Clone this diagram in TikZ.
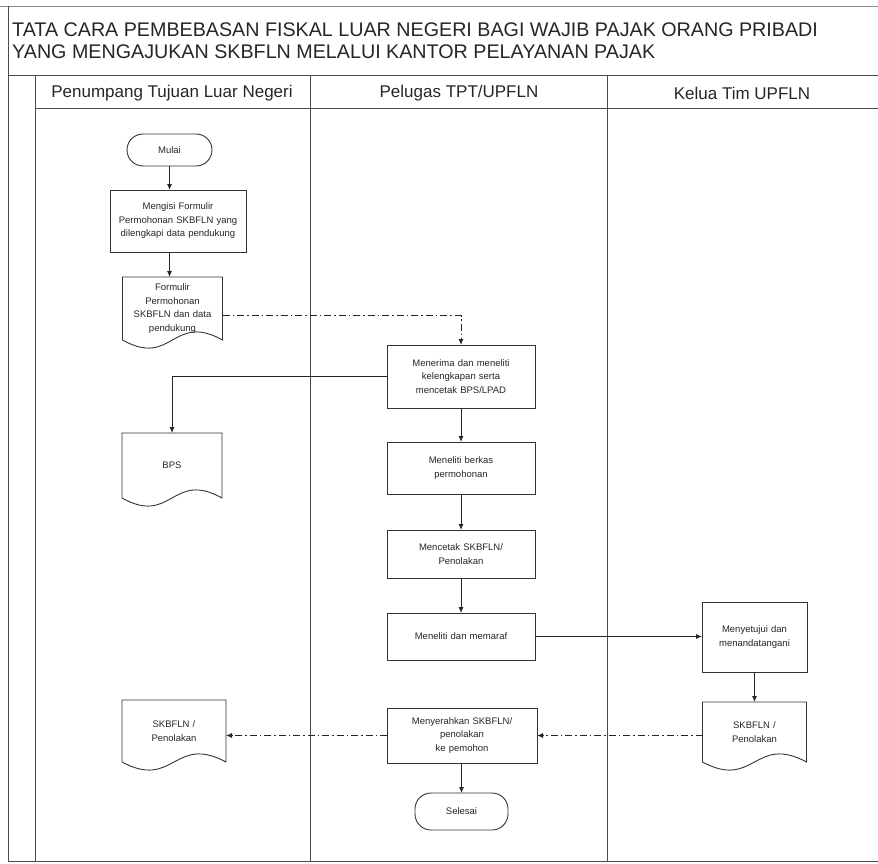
\documentclass[tikz,border=0pt]{standalone}
\usepackage{fontspec}
\setmainfont{Liberation Sans}
\usetikzlibrary{arrows.meta,calc}

\newcommand\docoutline[1]{%
  \draw[shapeline] (#1.north west) -- (#1.south west)
    .. controls ($(#1.south)+(0,28)$) and ($(#1.south)+(0,-28)$) .. (#1.south east)
    -- (#1.north east) -- cycle;}

\begin{document}
\begin{tikzpicture}[x=1pt,y=-1pt,
  frameline/.style={draw=black!70, line width=1pt},
  shapeline/.style={draw=black!80, line width=0.9pt},
  txt/.style={text=black!85, font=\fontsize{9.5}{13.5}\selectfont, align=center},
  proc/.style={txt, shapeline, rectangle, inner sep=0pt, outer sep=0pt},
  term/.style={txt, shapeline, rectangle, rounded corners=16pt, inner sep=0pt, outer sep=0pt},
  docbox/.style={txt, rectangle, inner sep=0pt, outer sep=0pt},
  lanehead/.style={text=black!85, font=\fontsize{17}{20}\selectfont},
  flow/.style={draw=black!85, line width=0.9pt, -{Latex[length=6pt,width=5pt]}},
  dashflow/.style={flow, dash pattern=on 7pt off 3pt on 1.5pt off 3pt}]

\useasboundingbox (0,0) rectangle (878,864);

% page frame and swimlane grid
\draw[draw=black!45, line width=0.8pt] (0,6) -- (878,6);
\draw[frameline] (8,6) -- (8,862);
\draw[frameline] (8,76) -- (878,76);
\draw[frameline] (35,109) -- (878,109);
\draw[frameline] (35,76) -- (35,862);
\draw[frameline] (310,76) -- (310,862);
\draw[frameline] (607,76) -- (607,862);
\draw[frameline] (8,861) -- (878,861);

% title
\node[anchor=west, inner sep=0pt, text=black!85, font=\fontsize{19.7}{22}\selectfont] (title1) at (12,30)
  {TATA CARA PEMBEBASAN FISKAL LUAR NEGERI BAGI WAJIB PAJAK ORANG PRIBADI};
\node[anchor=west, inner sep=0pt, text=black!85, font=\fontsize{19.7}{22}\selectfont] (title2) at (12,52)
  {YANG MENGAJUKAN SKBFLN MELALUI KANTOR PELAYANAN PAJAK};

% lane headers
\node[lanehead] (lane1) at (172,93) {Penumpang Tujuan Luar Negeri};
\node[lanehead] (lane2) at (459,93) {Pelugas TPT/UPFLN};
\node[lanehead] (lane3) at (742,93) {Kelua Tim UPFLN};

% lane 1
\node[term, minimum width=85pt, minimum height=32pt] (mulai) at (169.5,150) {Mulai};
\node[proc, minimum width=136pt, minimum height=62pt, text width=130pt] (mengisi) at (178,221)
  {Mengisi Formulir\\Permohonan SKBFLN yang\\dilengkapi data pendukung};
\node[docbox, minimum width=100pt, minimum height=63pt, text width=94pt] (formdoc) at (172.5,308.5)
  {Formulir\\Permohonan\\SKBFLN dan data\\pendukung};
\node[docbox, minimum width=100pt, minimum height=65pt, text width=94pt] (bps) at (172,465.5) {BPS};
\node[docbox, minimum width=104pt, minimum height=62pt, text width=98pt] (leftdoc) at (174,731)
  {SKBFLN /\\Penolakan};

% lane 2
\node[proc, minimum width=148pt, minimum height=63pt, text width=140pt] (menerima) at (461,376.5)
  {Menerima dan meneliti\\kelengkapan serta\\mencetak BPS/LPAD};
\node[proc, minimum width=148pt, minimum height=52pt, text width=140pt] (meneliti) at (461,468)
  {Meneliti berkas\\permohonan};
\node[proc, minimum width=148pt, minimum height=48pt, text width=140pt] (mencetak) at (461,554)
  {Mencetak SKBFLN/\\Penolakan};
\node[proc, minimum width=148pt, minimum height=47pt, text width=140pt] (memaraf) at (461,636.5)
  {Meneliti dan memaraf};
\node[proc, minimum width=150pt, minimum height=55pt, text width=142pt] (menyerahkan) at (462,735.5)
  {Menyerahkan SKBFLN/\\penolakan\\ke pemohon};
\node[term, minimum width=93pt, minimum height=37pt] (selesai) at (461.5,811.5) {Selesai};

% lane 3
\node[proc, minimum width=105pt, minimum height=70pt, text width=100pt] (menyetujui) at (754.5,637)
  {Menyetujui dan\\menandatangani};
\node[docbox, minimum width=104pt, minimum height=60pt, text width=98pt] (rightdoc) at (754.5,732)
  {SKBFLN /\\Penolakan};

% document outlines
\docoutline{formdoc}
\docoutline{bps}
\docoutline{leftdoc}
\docoutline{rightdoc}

% connectors
\draw[flow] (mulai.south) -- (mulai.south |- mengisi.north);
\draw[flow] (mulai.south |- mengisi.south) -- (mulai.south |- formdoc.north);
\draw[dashflow] ($(formdoc.east)+(0,7)$) -| (menerima.north);
\draw[flow] (menerima.west) -| (bps.north);
\draw[flow] (menerima.south) -- (meneliti.north);
\draw[flow] (meneliti.south) -- (mencetak.north);
\draw[flow] (mencetak.south) -- (memaraf.north);
\draw[flow] (memaraf.east) -- (menyetujui.west |- memaraf.east);
\draw[flow] (menyetujui.south) -- (rightdoc.north);
\draw[dashflow] (rightdoc.west |- menyerahkan.east) -- (menyerahkan.east);
\draw[dashflow] (menyerahkan.west) -- (leftdoc.east |- menyerahkan.west);
\draw[flow] (menyerahkan.south -| selesai.north) -- (selesai.north);

\end{tikzpicture}
\end{document}
